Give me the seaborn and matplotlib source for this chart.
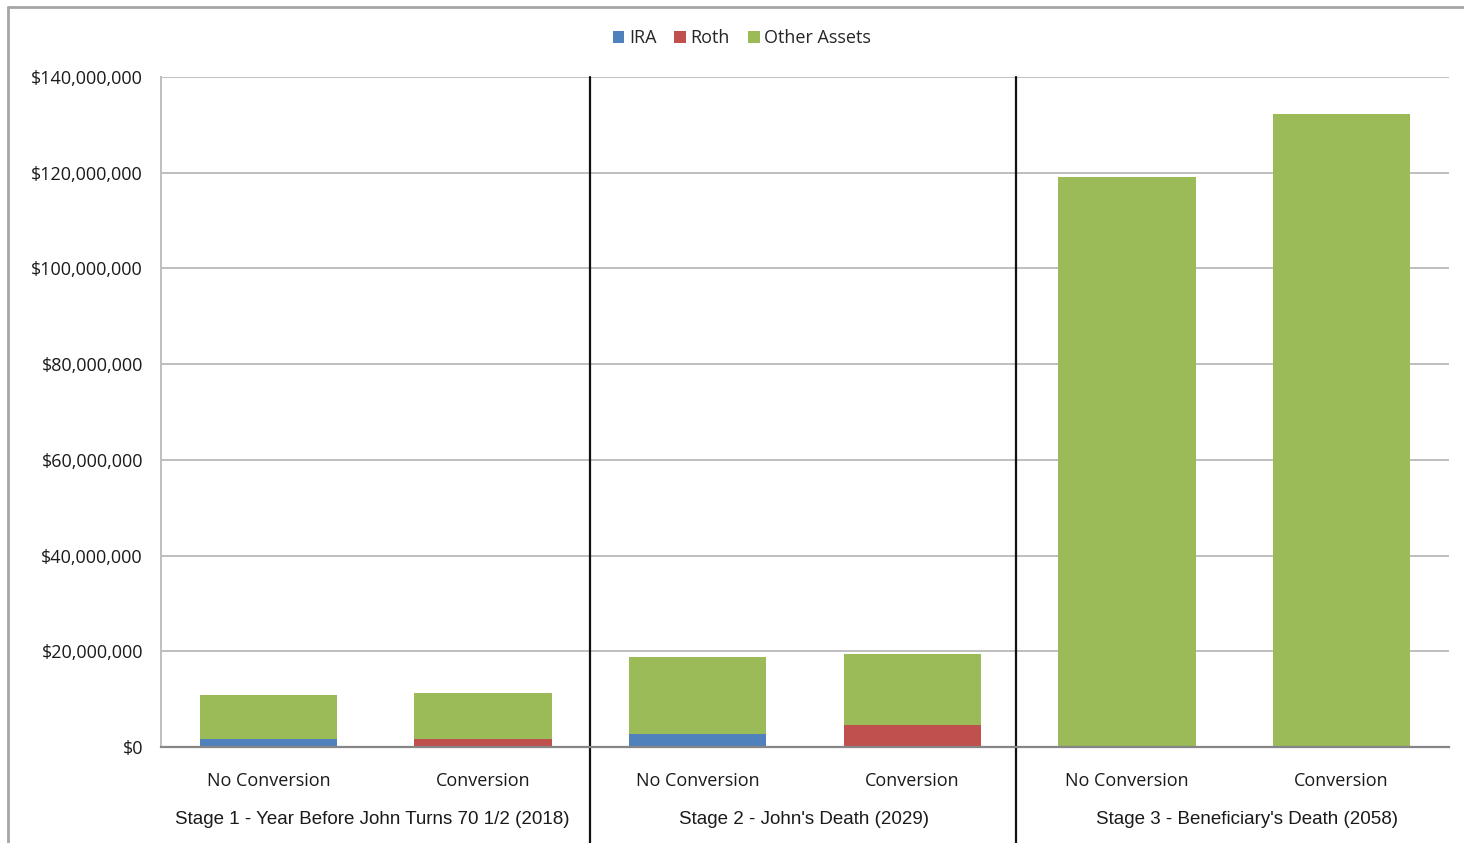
import matplotlib
matplotlib.use("Agg")
import matplotlib.pyplot as plt
import matplotlib.ticker as mticker
from matplotlib.lines import Line2D
from matplotlib.patches import Patch
import seaborn as sns
import pandas as pd

# ---- data (values in $ millions) ----
bar_ids = ["s1_no", "s1_conv", "s2_no", "s2_conv", "s3_no", "s3_conv"]
bar_labels = ["No Conversion", "Conversion", "No Conversion", "Conversion", "No Conversion", "Conversion"]
stages = ["Stage 1 - Year Before John Turns 70 1/2 (2018)",
          "Stage 2 - John's Death (2029)",
          "Stage 3 - Beneficiary's Death (2058)"]
ira = [1.7, 0.0, 2.7, 0.0, 0.0, 0.0]
roth = [0.0, 1.7, 0.0, 4.7, 0.0, 0.0]
other = [9.2, 9.5, 16.2, 14.7, 119.2, 132.3]
series_names = ["IRA", "Roth", "Other Assets"]
colors = ["#4F81BD", "#C0504D", "#9BBB59"]

scale = 1e6
df = pd.DataFrame({"id": bar_ids,
                   "IRA": [v * scale for v in ira],
                   "Roth": [v * scale for v in roth],
                   "Other": [v * scale for v in other]})
df["base_other"] = df["IRA"] + df["Roth"]

sns.set_theme(style="white")
plt.rcParams["font.family"] = ["Open Sans", "DejaVu Sans"]

fig = plt.figure(figsize=(14.64, 8.43), dpi=100)
ax = fig.add_axes([161 / 1464, 96 / 843, 1288 / 1464, 670 / 843])

W = 0.64
sns.barplot(data=df, x="id", y="IRA", order=bar_ids, color=colors[0],
            width=W, ax=ax, saturation=1, linewidth=0)
sns.barplot(data=df, x="id", y="Roth", order=bar_ids, color=colors[1],
            width=W, ax=ax, saturation=1, linewidth=0)
sns.barplot(data=df, x="id", y="Other", order=bar_ids, color=colors[2],
            width=W, ax=ax, saturation=1, linewidth=0, bottom=df["base_other"].values)

ax.set_xlim(-0.5, 5.5)
ax.set_ylim(0, 140e6)
ax.set_yticks([i * 20e6 for i in range(8)])
ax.yaxis.set_major_formatter(mticker.FuncFormatter(lambda v, p: "${:,.0f}".format(v)))
ax.yaxis.grid(True, color="#BFBFBF", linewidth=1.4)
ax.set_axisbelow(True)
ax.set_xlabel("")
ax.set_ylabel("")
ax.set_xticks(range(6))
ax.set_xticklabels(bar_labels)
ax.tick_params(axis="y", length=0, pad=13, labelsize=13, labelcolor="#1a1a1a")
ax.tick_params(axis="x", length=0, pad=18, labelsize=13, labelcolor="#1a1a1a")

for s in ["top", "right"]:
    ax.spines[s].set_visible(False)
ax.spines["left"].set_color("#BFBFBF")
ax.spines["left"].set_linewidth(1.4)
ax.spines["bottom"].set_color("#868686")
ax.spines["bottom"].set_linewidth(1.6)

# group dividers
trans = ax.get_xaxis_transform()
for xd in [1.5, 3.483]:
    ax.add_line(Line2D([xd, xd], [1.0, -0.2], transform=trans, color="#111111",
                       linewidth=1.6, clip_on=False))

# stage labels
for xs, st in zip([0.483, 2.495, 4.56], stages):
    ax.text(xs, -0.108, st, transform=trans, ha="center", va="center",
            fontsize=13.5, family=["Liberation Sans", "DejaVu Sans"], color="#1a1a1a")

# legend
handles = [Patch(facecolor=c, edgecolor="none") for c in colors]
fig.legend(handles, series_names, loc="center", bbox_to_anchor=(742 / 1464, 1 - 38 / 843),
           ncol=3, frameon=False, fontsize=13, handlelength=0.65, handleheight=0.65,
           handletextpad=0.25, columnspacing=1.0)

# outer chart frame
fig.add_artist(Line2D([8 / 1464, 8 / 1464], [0, 1 - 7 / 843], transform=fig.transFigure,
                      color="#A6A6A6", linewidth=2))
fig.add_artist(Line2D([8 / 1464, 1], [1 - 7 / 843, 1 - 7 / 843], transform=fig.transFigure,
                      color="#A6A6A6", linewidth=2))

fig.savefig("out.png", dpi=100, facecolor="white")
